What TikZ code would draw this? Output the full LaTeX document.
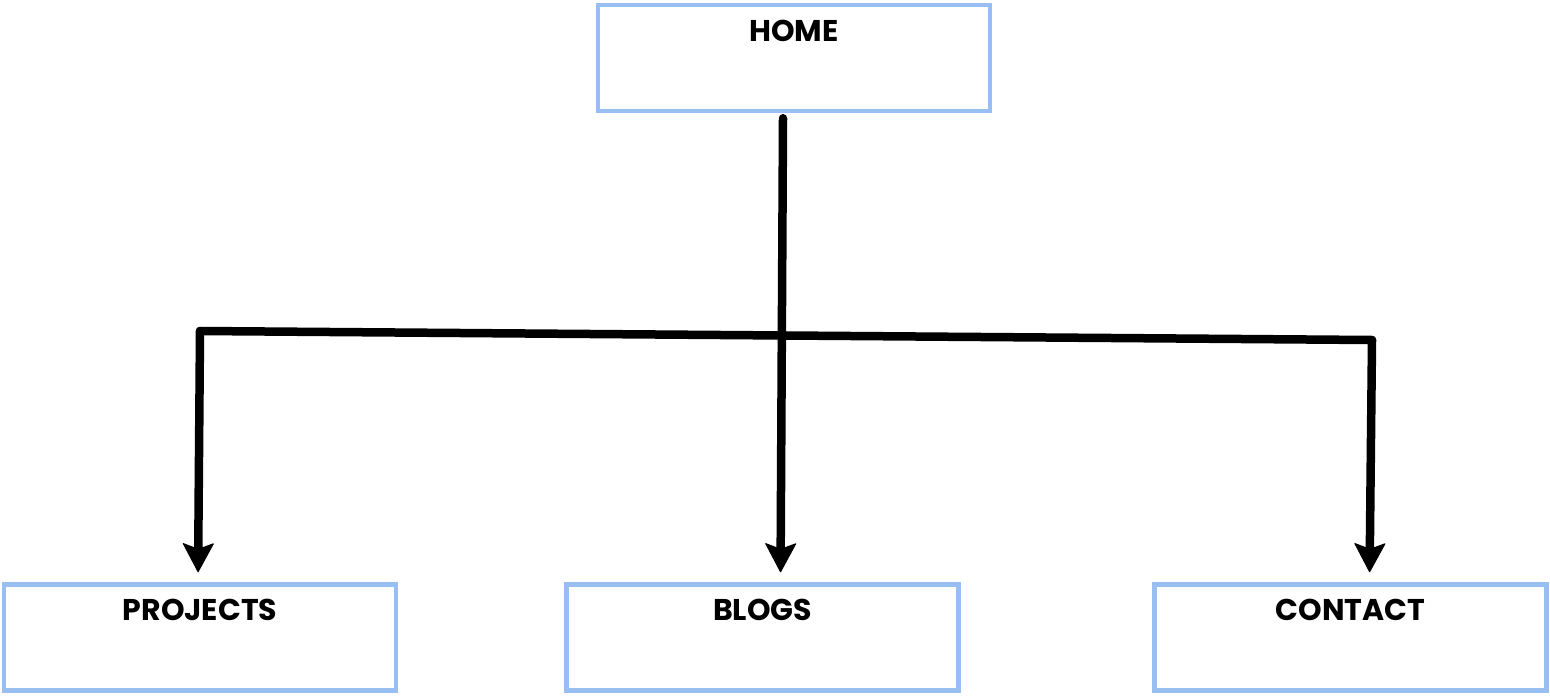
\documentclass[tikz,border=0pt]{standalone}
\usepackage{fontspec}
\setmainfont{Poppins}
\usetikzlibrary{arrows.meta}
\definecolor{boxblue}{HTML}{99BFF2}
\begin{document}
\begin{tikzpicture}[x=1pt,y=-1pt,
  pagebox/.style={draw=boxblue, line width=4.5pt, rectangle, fill=white,
    minimum width=392pt, minimum height=106pt, inner sep=0pt},
  title/.style={font=\fontsize{30}{30}\selectfont\bfseries, anchor=north, inner sep=0pt},
  link/.style={line width=8.5pt, line cap=round, line join=round},
  tip/.style={-{Stealth[length=30pt,width=32pt,inset=6pt,line width=1pt,fill=black,line join=round]}, shorten >=10pt}]
\useasboundingbox (0,0) rectangle (1550,696);
% page boxes
\node[pagebox] (home)     at (794,58)    {};
\node[pagebox] (projects) at (200,637.5) {};
\node[pagebox] (blogs)    at (762.5,637.5) {};
\node[pagebox] (contact)  at (1350.5,637.5) {};
% box titles
\node[title] (homet)     at ([yshift=-17pt]home.north)     {HOME};
\node[title] (projectst) at ([yshift=-17pt]projects.north) {PROJECTS};
\node[title] (blogst)    at ([yshift=-17pt]blogs.north)    {BLOGS};
\node[title] (contactt)  at ([yshift=-17pt]contact.north)  {CONTACT};
% branch points
\coordinate (stem) at ([xshift=-11pt,yshift=-5pt]home.south);
\coordinate (jl) at (200,331);
\coordinate (jr) at (1372,340);
% connectors
\draw[link] (jl) -- (jr);
\draw[link,tip] (stem) -- ([xshift=18pt]blogs.north);
\draw[link,tip] (jl) -- ([xshift=-2pt]projects.north);
\draw[link,tip] (jr) -- ([xshift=19pt]contact.north);
\end{tikzpicture}
\end{document}
